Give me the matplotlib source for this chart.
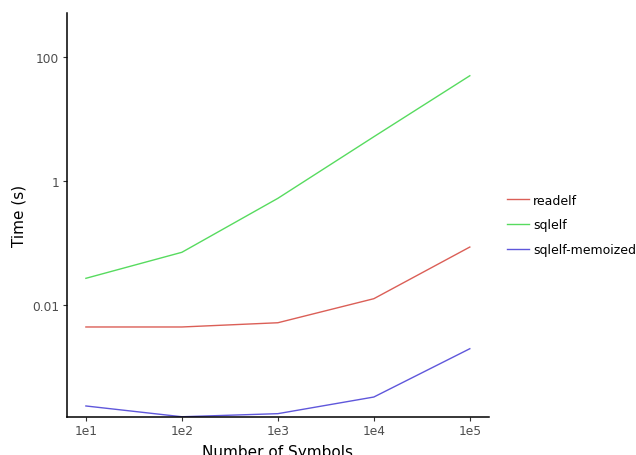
import matplotlib
matplotlib.use("Agg")
import matplotlib.pyplot as plt
import numpy as np

categories = ["1e1", "1e2", "1e3", "1e4", "1e5"]
readelf = [0.0044, 0.0044, 0.00515, 0.0126, 0.0861]
sqlelf = [0.0269, 0.0708, 0.527, 5.21, 50.4]
sqlelf_memoized = [0.000233, 0.000156, 0.000175, 0.000325, 0.00196]
series_names = ["readelf", "sqlelf", "sqlelf-memoized"]
colors = ["#db5f57", "#57db5f", "#5f57db"]
ytick_vals = [0.01, 1, 100]
ytick_labels = ["0.01", "1", "100"]

fig = plt.figure(figsize=(6.36, 4.56), dpi=100)
ax = fig.add_axes([66.7/636, 1-417.7/456, (489-66.7)/636, (417.7-14)/456])
x = np.arange(len(categories))
for vals, name, c in zip([readelf, sqlelf, sqlelf_memoized], series_names, colors):
    ax.plot(x, vals, color=c, lw=1.0, label=name)
ax.set_yscale("log")
ax.set_ylim(10**-3.806, 10**2.716)
ax.set_xlim(-0.2, 4.2)
ax.set_xticks(x)
ax.set_xticklabels(categories)
ax.set_yticks(ytick_vals)
ax.set_yticklabels(ytick_labels)
ax.yaxis.set_minor_locator(matplotlib.ticker.NullLocator())
for s in ["top", "right"]:
    ax.spines[s].set_visible(False)
for s in ["left", "bottom"]:
    ax.spines[s].set_linewidth(1.1)
    ax.spines[s].set_color("black")
ax.tick_params(axis="both", which="major", length=3, width=0.8, color="#333333",
               labelcolor="#4d4d4d", labelsize=8.8, pad=2.5)
ax.set_xlabel("Number of Symbols", fontsize=11, labelpad=4.5)
ax.set_ylabel("Time (s)", fontsize=11, labelpad=4)
handles, labels = ax.get_legend_handles_labels()
leg = fig.legend(handles, labels, loc="center left", bbox_to_anchor=(507/636, 1-226/456),
                 frameon=False, fontsize=9, handlelength=1.75, labelspacing=0.95,
                 handletextpad=0.35, borderpad=0, borderaxespad=0)
fig.savefig("out.png", dpi=100)
